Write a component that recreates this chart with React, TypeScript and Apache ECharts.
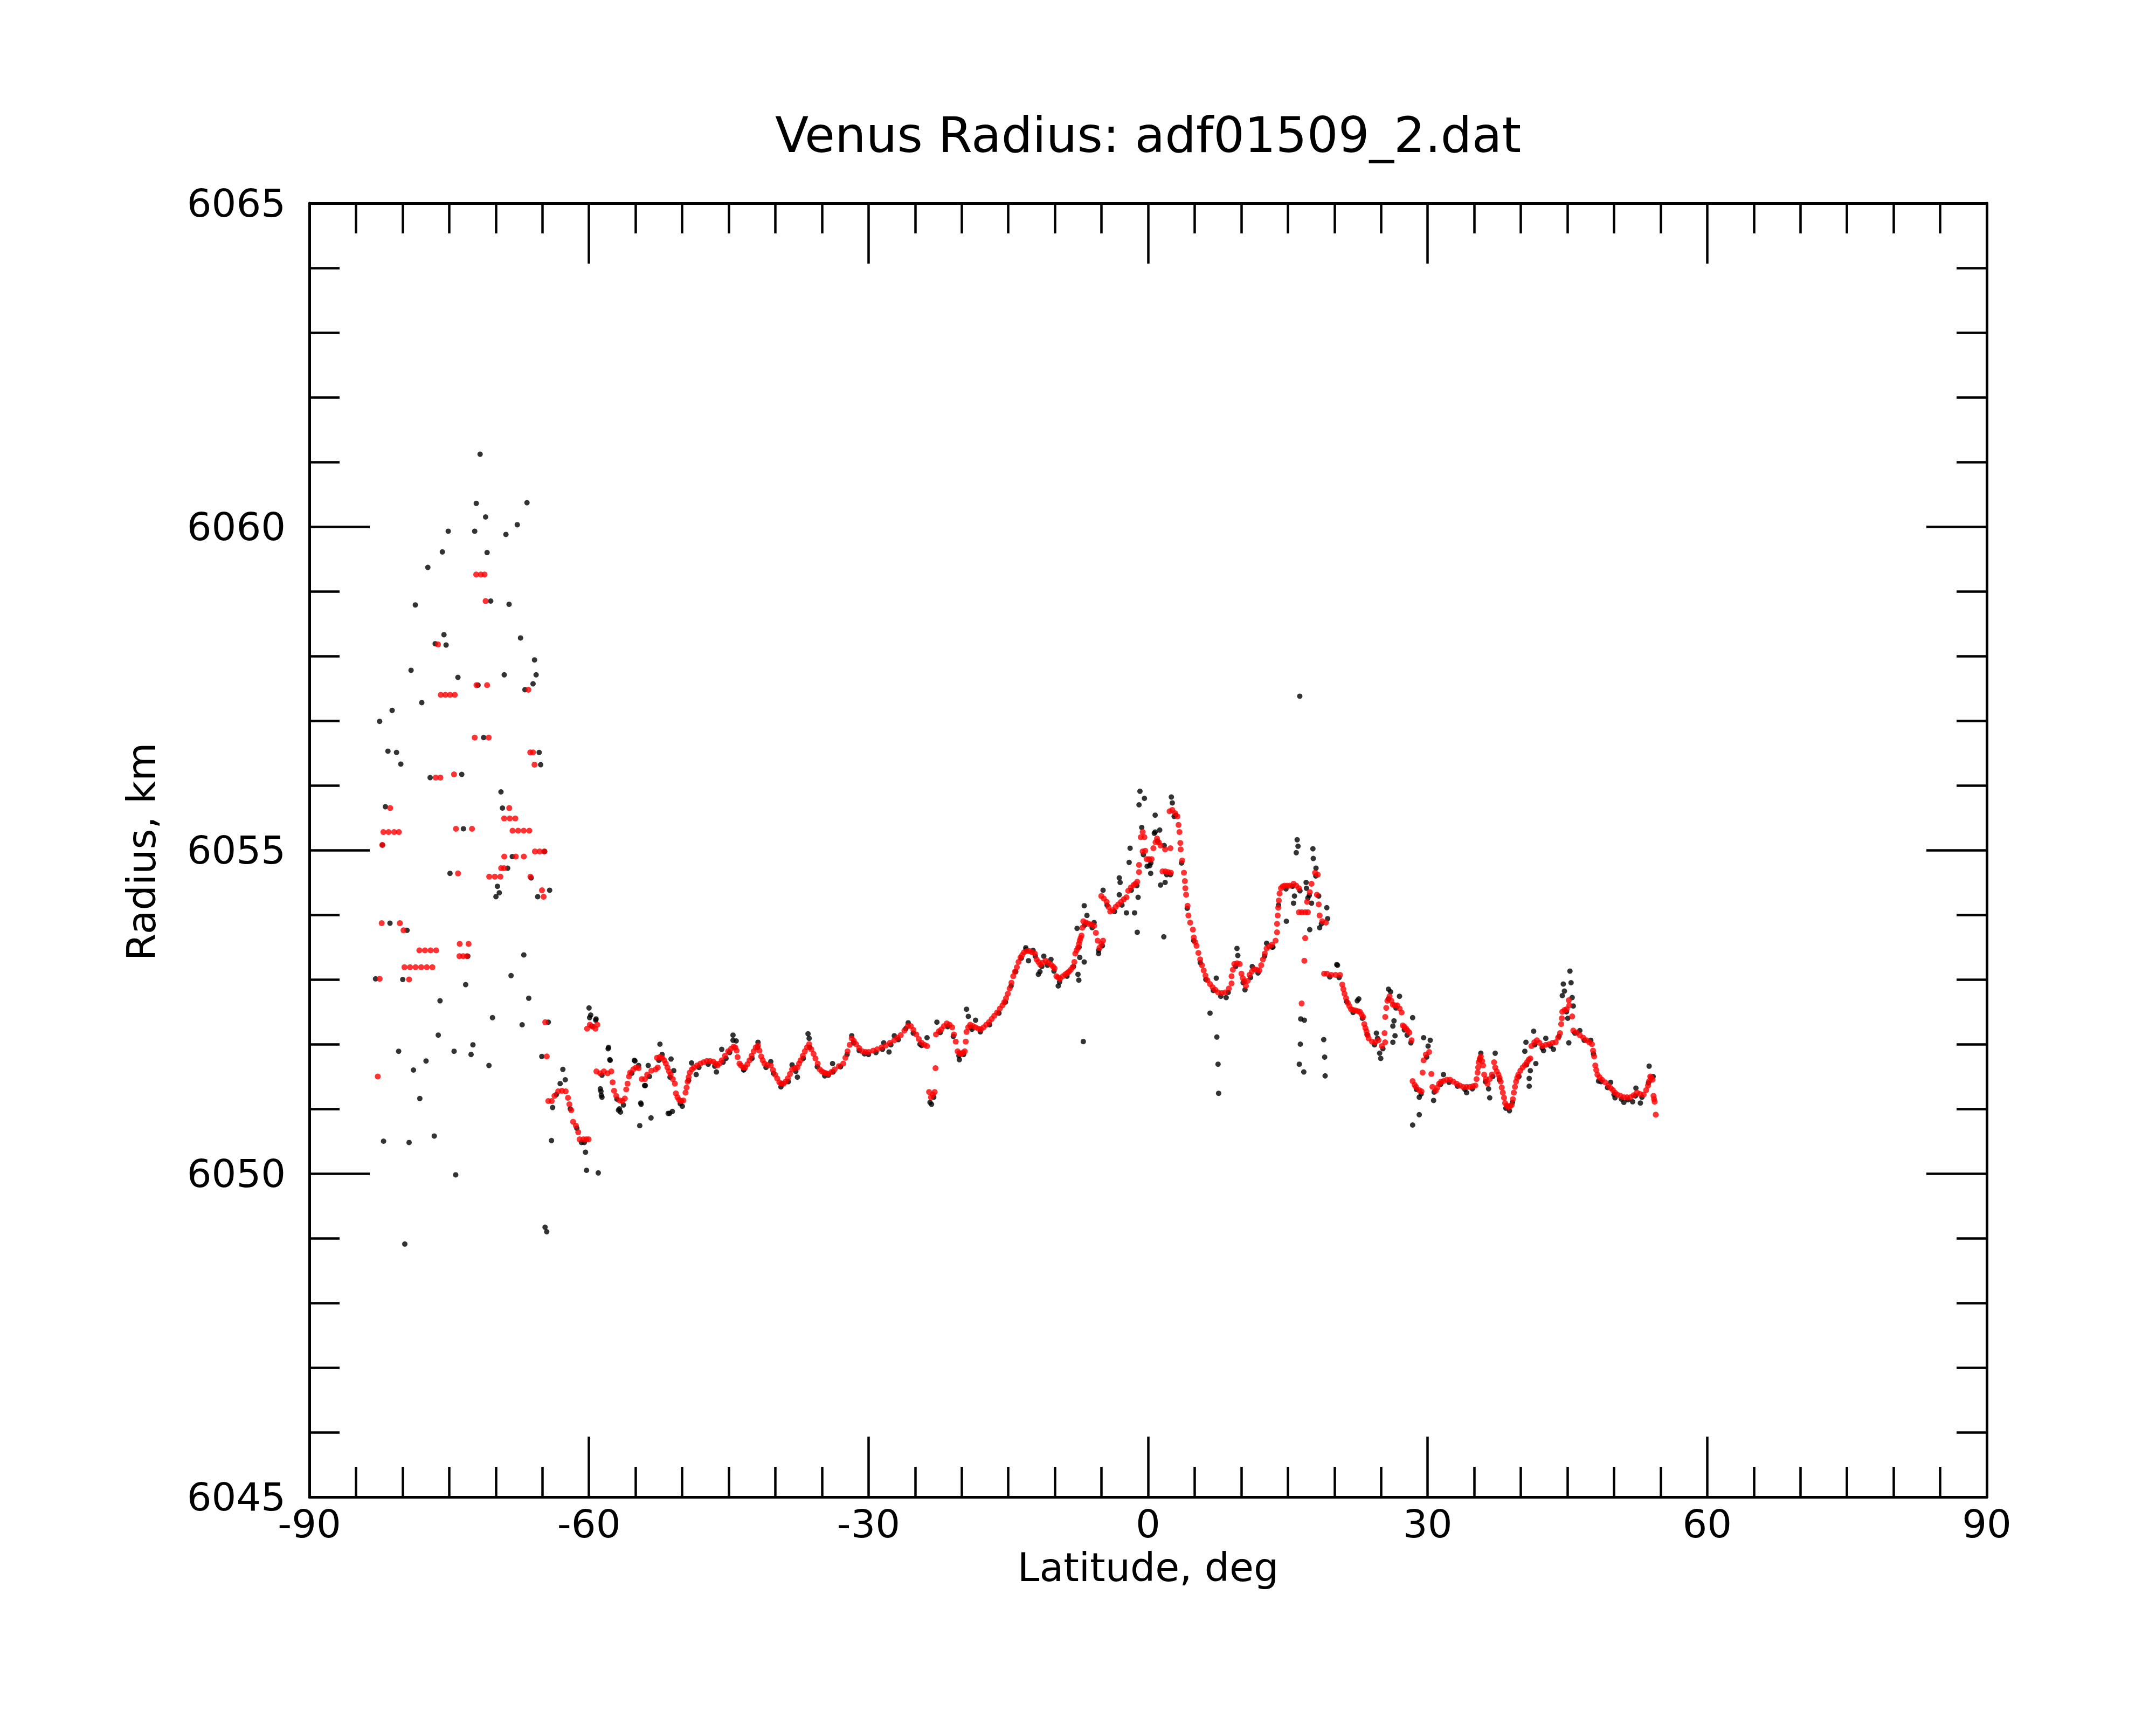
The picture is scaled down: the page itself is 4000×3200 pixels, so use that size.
import React, { useEffect, useRef } from "react";
import * as echarts from "echarts";

const TITLE = "Venus Radius: adf01509_2.dat";
const X_NAME = "Latitude, deg";
const Y_NAME = "Radius, km";
const X_RANGE = [-90, 90];
const Y_RANGE = [6045, 6065];

// red (filtered) points, scattered polar part
const redSouth: number[][] = [
  [-82.66, 6051.5], [-82.46, 6053.01], [-82.24, 6053.87], [-82.17, 6055.08],
  [-82.06, 6055.28], [-81.5, 6055.28], [-80.9, 6055.28], [-80.4, 6055.28],
  [-81.33, 6055.65], [-80.29, 6053.87], [-79.9, 6053.76], [-79.3, 6053.0],
  [-79.8, 6053.19], [-79.2, 6053.19], [-78.6, 6053.19], [-78.0, 6053.19], [-77.4, 6053.19], [-76.8, 6053.19],
  [-78.2, 6053.45], [-77.6, 6053.45], [-77.0, 6053.45], [-76.4, 6053.45],
  [-76.2, 6058.18], [-76.44, 6056.12], [-75.94, 6056.12],
  [-75.9, 6057.4], [-75.4, 6057.4], [-74.9, 6057.4], [-74.4, 6057.4],
  [-74.48, 6056.17], [-74.27, 6055.33], [-72.55, 6055.33], [-74.05, 6054.64],
  [-73.87, 6053.55], [-72.92, 6053.55], [-73.9, 6053.36], [-73.5, 6053.36], [-73.1, 6053.36],
  [-72.07, 6057.55], [-70.93, 6057.55], [-72.1, 6059.26], [-71.6, 6059.26], [-71.2, 6059.26],
  [-71.09, 6058.85], [-72.26, 6056.74], [-70.76, 6056.74],
  [-70.7, 6054.59], [-70.1, 6054.59], [-69.5, 6054.59], [-69.42, 6054.72], [-69.11, 6054.72],
  [-69.09, 6054.9], [-67.85, 6054.9], [-66.99, 6054.9],
  [-69.1, 6055.49], [-68.5, 6055.49], [-67.9, 6055.49], [-68.55, 6055.65],
  [-68.2, 6055.3], [-67.6, 6055.3], [-67.0, 6055.3], [-66.4, 6055.3],
  [-66.5, 6057.48], [-66.28, 6054.59], [-66.3, 6056.51], [-66.0, 6056.51], [-65.84, 6056.32],
  [-65.8, 6054.98], [-65.3, 6054.98], [-64.8, 6054.98], [-65.04, 6054.38], [-64.86, 6054.28],
  [-64.69, 6052.34], [-64.53, 6051.81],
];

// red points, southern continuous track (-64 .. -24)
const redMidSouth: number[][] = [
  [-64.36, 6051.12], [-64.0, 6051.12], [-63.7, 6051.2], [-63.3, 6051.27], [-62.9, 6051.28], [-62.5, 6051.27],
  [-62.25, 6051.17], [-62.1, 6051.07], [-61.9, 6050.98], [-61.7, 6050.8], [-61.4, 6050.74], [-61.15, 6050.64],
  [-61.0, 6050.53], [-60.6, 6050.53], [-60.3, 6050.53], [-60.04, 6050.53],
  [-60.2, 6052.24], [-59.9, 6052.3], [-59.6, 6052.27], [-59.3, 6052.24], [-59.1, 6052.3],
  [-59.2, 6051.58], [-58.8, 6051.55], [-58.4, 6051.58], [-58.0, 6051.55], [-57.6, 6051.58],
  [-57.46, 6051.41], [-57.3, 6051.28], [-57.07, 6051.2], [-56.7, 6051.13], [-56.4, 6051.12], [-56.15, 6051.16],
  [-56.0, 6051.3], [-55.86, 6051.39], [-55.7, 6051.5], [-55.58, 6051.56], [-55.24, 6051.61], [-54.95, 6051.64],
  [-54.67, 6051.63], [-54.33, 6051.46], [-53.98, 6051.46], [-53.75, 6051.53], [-53.3, 6051.59], [-52.84, 6051.61],
  [-52.61, 6051.64], [-52.7, 6051.79], [-52.4, 6051.8], [-52.15, 6051.79], [-51.92, 6051.75], [-51.75, 6051.7],
  [-51.58, 6051.64], [-51.4, 6051.58], [-51.24, 6051.53], [-51.0, 6051.46], [-50.78, 6051.39], [-50.67, 6051.24],
  [-50.5, 6051.18], [-50.32, 6051.14], [-50.1, 6051.12], [-49.87, 6051.13], [-49.64, 6051.25], [-49.52, 6051.33],
  [-49.41, 6051.42], [-49.3, 6051.49], [-49.18, 6051.56], [-48.95, 6051.61], [-48.72, 6051.64], [-48.4, 6051.67],
  [-48.04, 6051.7], [-47.7, 6051.72], [-47.35, 6051.74], [-47.0, 6051.74], [-46.66, 6051.73], [-46.4, 6051.7],
  [-46.21, 6051.67], [-45.98, 6051.7], [-45.75, 6051.75], [-45.4, 6051.82], [-45.06, 6051.89], [-44.75, 6051.93],
  [-44.49, 6051.96], [-44.3, 6051.95], [-44.15, 6051.9], [-44.05, 6051.8], [-43.85, 6051.7], [-43.69, 6051.67],
  [-43.45, 6051.64], [-43.23, 6051.64], [-43.0, 6051.69], [-42.77, 6051.75], [-42.55, 6051.82], [-42.32, 6051.89],
  [-42.1, 6051.95], [-41.86, 6051.98], [-41.7, 6051.9], [-41.52, 6051.81], [-41.35, 6051.75], [-41.17, 6051.7],
  [-40.85, 6051.68], [-40.49, 6051.67], [-40.25, 6051.6], [-40.03, 6051.53], [-39.8, 6051.47], [-39.57, 6051.41],
  [-39.35, 6051.39], [-39.12, 6051.39], [-38.9, 6051.42], [-38.66, 6051.47], [-38.43, 6051.54], [-38.2, 6051.61],
  [-37.9, 6051.63], [-37.63, 6051.64], [-37.45, 6051.7], [-37.29, 6051.75], [-37.05, 6051.82], [-36.83, 6051.89],
  [-36.6, 6051.95], [-36.37, 6052.0], [-36.14, 6051.92], [-35.9, 6051.85], [-35.69, 6051.78], [-35.45, 6051.7],
  [-35.23, 6051.61], [-35.0, 6051.58], [-34.77, 6051.56], [-34.54, 6051.55], [-34.31, 6051.54], [-33.97, 6051.57],
  [-33.63, 6051.61], [-33.17, 6051.66], [-32.71, 6051.7], [-32.48, 6051.79], [-32.25, 6051.89], [-32.02, 6051.99],
  [-31.8, 6052.09], [-31.57, 6052.05], [-31.34, 6052.0], [-31.0, 6051.94], [-30.66, 6051.89], [-30.3, 6051.88],
  [-29.97, 6051.88], [-29.5, 6051.9], [-29.07, 6051.92], [-28.6, 6051.95], [-28.14, 6051.98], [-27.7, 6052.02],
  [-27.23, 6052.06], [-26.9, 6052.1], [-26.54, 6052.14], [-26.15, 6052.21], [-25.78, 6052.28], [-25.46, 6052.28],
  [-25.18, 6052.22], [-24.88, 6052.15], [-24.6, 6052.08], [-24.3, 6052.02], [-24.0, 6051.99], [-23.72, 6051.97],
];

// red points, equatorial track (-24 .. 20)
const redEquator: number[][] = [
  [-23.5, 6051.26], [-23.3, 6051.18], [-23.1, 6051.22], [-22.9, 6051.26], [-22.81, 6051.63],
  [-22.76, 6052.15], [-22.45, 6052.2], [-22.18, 6052.23], [-21.9, 6052.28], [-21.6, 6052.32], [-21.3, 6052.3],
  [-21.02, 6052.26], [-20.83, 6052.15], [-20.64, 6052.04], [-20.44, 6051.89], [-20.25, 6051.86], [-20.06, 6051.85],
  [-19.85, 6051.87], [-19.67, 6051.89], [-19.57, 6052.04], [-19.48, 6052.19], [-19.3, 6052.26], [-19.09, 6052.3],
  [-18.8, 6052.28], [-18.51, 6052.26], [-18.2, 6052.24], [-17.94, 6052.23], [-17.65, 6052.26], [-17.36, 6052.3],
  [-17.07, 6052.34], [-16.78, 6052.39], [-16.5, 6052.44], [-16.2, 6052.49], [-15.9, 6052.55], [-15.62, 6052.6],
  [-15.43, 6052.65], [-15.24, 6052.71], [-15.05, 6052.78], [-14.85, 6052.86], [-14.66, 6052.95], [-14.47, 6053.05],
  [-14.28, 6053.12], [-14.08, 6053.19], [-13.9, 6053.27], [-13.69, 6053.34], [-13.5, 6053.38], [-13.31, 6053.42],
  [-13.0, 6053.44], [-12.73, 6053.44], [-12.45, 6053.42], [-12.15, 6053.4], [-11.96, 6053.31], [-11.77, 6053.27],
  [-11.57, 6053.23], [-11.3, 6053.26], [-10.99, 6053.29], [-10.7, 6053.26], [-10.42, 6053.23], [-10.2, 6053.2],
  [-10.03, 6053.17], [-9.84, 6053.05], [-9.65, 6053.03], [-9.45, 6053.01], [-9.15, 6053.05], [-8.88, 6053.08],
  [-8.67, 6053.1], [-8.49, 6053.12], [-8.3, 6053.15], [-8.1, 6053.19], [-7.91, 6053.27], [-7.81, 6053.4],
  [-7.67, 6053.45], [-7.52, 6053.49], [-7.42, 6053.55], [-7.33, 6053.6], [-7.24, 6053.64], [-7.14, 6053.68],
  [-7.05, 6053.8], [-6.95, 6053.9], [-6.65, 6053.88], [-6.37, 6053.86], [-6.08, 6053.85], [-5.79, 6053.83],
  [-5.6, 6053.72], [-5.41, 6053.6], [-5.21, 6053.49], [-5.0, 6053.55], [-4.83, 6053.6],
  [-5.02, 6054.29], [-4.75, 6054.25], [-4.44, 6054.2], [-4.25, 6054.12], [-4.06, 6054.05], [-3.8, 6054.07],
  [-3.48, 6054.12], [-3.2, 6054.16], [-2.9, 6054.2], [-2.6, 6054.24], [-2.32, 6054.27], [-2.13, 6054.37],
  [-1.85, 6054.42], [-1.55, 6054.46], [-1.36, 6054.48], [-1.16, 6054.51], [-0.97, 6054.66], [-0.97, 6054.77],
  [-0.78, 6055.2], [-0.58, 6055.28], [-0.58, 6054.98], [-0.39, 6055.2], [-0.3, 6054.99], [-0.15, 6054.86],
  [0.1, 6054.86], [0.38, 6054.86], [0.57, 6055.03], [0.8, 6055.12], [0.96, 6055.18], [1.15, 6055.12],
  [1.34, 6055.07], [1.55, 6054.67], [1.83, 6055.01], [1.85, 6054.67], [2.15, 6054.66], [2.4, 6055.03],
  [2.45, 6054.65], [2.31, 6055.6], [2.6, 6055.62], [2.9, 6055.57], [3.15, 6055.52],
  [3.27, 6055.39], [3.37, 6055.28], [3.46, 6055.11], [3.5, 6055.01], [3.66, 6054.84], [3.85, 6054.65],
  [3.95, 6054.52], [4.0, 6054.41], [4.08, 6054.31], [4.24, 6054.14], [4.33, 6053.99], [4.52, 6053.88],
  [4.81, 6053.77], [4.91, 6053.65], [5.05, 6053.58], [5.2, 6053.52], [5.4, 6053.41], [5.59, 6053.31],
  [5.78, 6053.22], [5.97, 6053.14], [6.16, 6053.06], [6.36, 6052.99], [6.65, 6052.93], [6.93, 6052.88],
  [7.22, 6052.84], [7.51, 6052.8], [7.9, 6052.79], [8.28, 6052.8], [8.67, 6052.86], [8.96, 6052.94],
  [8.96, 6053.05], [9.1, 6053.15], [9.25, 6053.24], [9.55, 6053.25], [9.83, 6053.24], [10.02, 6053.09],
  [10.17, 6053.02], [10.31, 6052.97], [10.5, 6052.9], [10.7, 6052.98], [10.89, 6053.07], [11.13, 6053.12],
  [11.37, 6053.16], [11.66, 6053.15], [11.95, 6053.14], [12.14, 6053.22], [12.33, 6053.31], [12.52, 6053.4],
  [12.72, 6053.48], [13.0, 6053.51], [13.3, 6053.54], [13.68, 6053.6], [13.84, 6053.73], [13.84, 6053.86],
  [13.91, 6053.99], [13.97, 6054.11], [14.03, 6054.22], [14.11, 6054.33], [14.26, 6054.41], [14.45, 6054.44],
  [14.65, 6054.45], [14.94, 6054.45], [15.22, 6054.45], [15.61, 6054.48], [15.9, 6054.45], [16.19, 6054.41],
  [16.19, 6054.04], [16.5, 6054.04], [16.86, 6054.04], [17.15, 6054.04], [16.86, 6053.64], [16.77, 6053.29],
  [16.48, 6052.63], [17.06, 6054.2], [17.35, 6054.35], [17.54, 6054.48], [17.92, 6054.65], [18.21, 6054.62],
  [18.12, 6054.31], [18.31, 6054.16], [18.41, 6053.99], [18.69, 6053.9], [19.08, 6053.88],
  [18.89, 6053.09], [19.2, 6053.09], [19.66, 6053.07],
];

// red points, northern track (20 .. 55)
const redNorth: number[][] = [
  [20.13, 6053.07], [20.6, 6053.07], [20.84, 6052.92], [20.96, 6052.85], [21.08, 6052.78], [21.25, 6052.71],
  [21.43, 6052.64], [21.6, 6052.59], [21.78, 6052.54], [22.0, 6052.53], [22.26, 6052.52], [22.5, 6052.51],
  [22.73, 6052.5], [22.9, 6052.46], [23.08, 6052.42], [23.2, 6052.31], [23.32, 6052.25], [23.44, 6052.2],
  [23.55, 6052.14], [23.67, 6052.09], [24.03, 6052.04], [24.38, 6052.03], [24.73, 6052.06], [25.09, 6051.97],
  [25.44, 6052.03], [25.38, 6052.17], [25.45, 6052.42], [25.56, 6052.56], [25.68, 6052.67], [25.91, 6052.74],
  [26.1, 6052.67], [26.27, 6052.61], [26.5, 6052.6], [26.74, 6052.6], [27.0, 6052.55], [27.21, 6052.49],
  [27.33, 6052.29], [27.5, 6052.27], [27.69, 6052.24], [27.85, 6052.21], [28.04, 6052.18], [28.28, 6052.06],
  [28.39, 6051.43], [28.6, 6051.37], [28.75, 6051.34], [29.1, 6051.29], [29.34, 6051.27],
  [29.46, 6051.56], [29.57, 6051.75], [29.81, 6051.84], [30.16, 6051.88], [30.4, 6051.54],
  [30.52, 6051.34], [30.87, 6051.28], [31.05, 6051.33], [31.23, 6051.39], [31.45, 6051.42], [31.7, 6051.43],
  [32.05, 6051.45], [32.41, 6051.45], [32.75, 6051.42], [33.11, 6051.39], [33.45, 6051.36], [33.82, 6051.34],
  [34.18, 6051.34], [34.53, 6051.34], [34.85, 6051.35], [35.12, 6051.36], [35.25, 6051.46], [35.36, 6051.56],
  [35.42, 6051.64], [35.48, 6051.72], [35.6, 6051.78], [35.71, 6051.81], [35.85, 6051.74], [35.95, 6051.67],
  [36.07, 6051.53], [36.25, 6051.46], [36.42, 6051.39], [36.66, 6051.46], [36.89, 6051.53], [37.13, 6051.72],
  [37.25, 6051.64], [37.42, 6051.58], [37.6, 6051.53], [37.72, 6051.48], [37.84, 6051.42], [37.95, 6051.33],
  [38.07, 6051.25], [38.2, 6051.17], [38.31, 6051.09], [38.5, 6051.05], [38.66, 6051.03], [38.85, 6051.04],
  [39.02, 6051.06], [39.15, 6051.15], [39.25, 6051.25], [39.37, 6051.34], [39.49, 6051.42], [39.61, 6051.48],
  [39.73, 6051.53], [39.95, 6051.59], [40.2, 6051.64], [40.45, 6051.68], [40.67, 6051.72], [40.85, 6051.76],
  [41.02, 6051.78], [41.14, 6051.97], [41.45, 6052.03], [41.73, 6052.06], [42.0, 6052.02], [42.32, 6051.97],
  [42.68, 6051.99], [43.03, 6052.0], [43.4, 6052.02], [43.74, 6052.03], [44.0, 6052.1], [44.21, 6052.17],
  [44.33, 6052.31], [44.4, 6052.4], [44.45, 6052.5], [44.7, 6052.53], [44.92, 6052.54], [45.15, 6052.68],
  [45.2, 6052.6], [45.51, 6052.43], [45.63, 6052.21], [46.0, 6052.18], [46.33, 6052.14], [46.7, 6052.1],
  [47.04, 6052.06], [47.35, 6052.03], [47.63, 6052.0], [47.75, 6051.9], [47.87, 6051.81], [47.99, 6051.67],
  [48.1, 6051.6], [48.22, 6051.53], [48.45, 6051.49], [48.7, 6051.45], [49.05, 6051.41], [49.4, 6051.36],
  [49.65, 6051.32], [49.88, 6051.29], [50.1, 6051.25], [50.35, 6051.22], [50.7, 6051.2], [51.06, 6051.18],
  [51.4, 6051.18], [51.76, 6051.18], [52.1, 6051.21], [52.47, 6051.25], [52.8, 6051.23], [53.18, 6051.22],
  [53.45, 6051.29], [53.65, 6051.36], [53.77, 6051.43], [53.89, 6051.5], [54.0, 6051.48], [54.13, 6051.45],
  [54.24, 6051.2], [54.3, 6051.15], [54.36, 6051.11], [54.48, 6050.91],
];

// black (raw) points, scattered polar part
const blackSouth: number[][] = [
  [-71.68, 6061.12], [-72.09, 6060.36], [-66.65, 6060.37], [-71.09, 6060.15], [-67.69, 6060.03],
  [-75.1, 6059.93], [-72.26, 6059.93], [-68.91, 6059.88], [-75.73, 6059.61], [-70.93, 6059.6],
  [-77.29, 6059.37], [-70.54, 6058.85], [-68.57, 6058.8], [-78.63, 6058.79], [-75.56, 6058.33],
  [-76.5, 6058.19], [-75.33, 6058.17], [-67.34, 6058.28], [-65.84, 6057.94], [-79.09, 6057.78],
  [-74.06, 6057.67], [-69.09, 6057.71], [-65.67, 6057.71], [-66.0, 6057.57], [-71.9, 6057.55],
  [-66.87, 6057.48], [-77.94, 6057.28], [-81.12, 6057.16], [-82.46, 6056.99], [-71.3, 6056.74],
  [-81.57, 6056.53], [-80.65, 6056.51], [-65.34, 6056.51], [-80.19, 6056.33], [-65.18, 6056.32],
  [-77.04, 6056.12], [-73.65, 6056.17], [-69.44, 6055.9], [-81.84, 6055.67], [-69.28, 6055.65],
  [-73.47, 6055.33], [-82.17, 6055.08], [-64.75, 6054.98], [-68.23, 6054.9], [-74.91, 6054.64],
  [-68.72, 6054.72], [-66.2, 6054.57], [-69.82, 6054.44], [-69.62, 6054.34], [-69.98, 6054.28],
  [-64.22, 6054.38], [-65.5, 6054.28], [-81.35, 6053.87], [-79.52, 6053.76], [-73.0, 6053.36],
  [-66.99, 6053.38], [-82.9, 6053.01], [-79.98, 6053.0], [-68.36, 6053.06], [-73.23, 6052.92],
  [-75.98, 6052.67], [-66.46, 6052.71], [-70.35, 6052.41], [-67.17, 6052.3], [-64.36, 6052.34],
  [-76.17, 6052.14], [-80.42, 6051.89], [-72.45, 6051.99], [-74.47, 6051.89], [-72.65, 6051.84],
  [-77.48, 6051.74], [-65.06, 6051.81], [-78.83, 6051.6], [-70.73, 6051.67], [-78.15, 6051.16],
  [-82.04, 6050.5], [-79.3, 6050.48], [-76.6, 6050.58], [-74.3, 6049.98], [-79.76, 6048.91],
  [-64.71, 6049.17], [-64.53, 6049.1], [-64.02, 6050.51],
];

// black points that lie on the continuous track
const blackTrack: number[][] = [
  [-63.5, 6051.22], [-62.0, 6051.0], [-61.3, 6050.7], [-60.5, 6050.48], [-59.7, 6052.28], [-58.6, 6051.52],
  [-57.0, 6051.15], [-56.3, 6051.06], [-55.4, 6051.55], [-53.5, 6051.5], [-52.5, 6051.75], [-51.3, 6051.49],
  [-50.2, 6051.08], [-49.3, 6051.44], [-48.2, 6051.64], [-47.2, 6051.69], [-46.5, 6051.66], [-45.6, 6051.72],
  [-44.9, 6051.87], [-44.2, 6052.05], [-43.4, 6051.6], [-42.5, 6051.78], [-41.9, 6051.95], [-41.0, 6051.64],
  [-40.2, 6051.55], [-39.4, 6051.34], [-38.6, 6051.42], [-37.8, 6051.58], [-37.0, 6051.78], [-36.3, 6051.95],
  [-35.5, 6051.65], [-34.7, 6051.51], [-33.8, 6051.57], [-33.0, 6051.65], [-32.3, 6051.84], [-31.6, 6052.02],
  [-31.0, 6051.9], [-30.0, 6051.84], [-29.2, 6051.87], [-28.5, 6051.92], [-27.6, 6051.99], [-26.8, 6052.07],
  [-26.0, 6052.24], [-25.2, 6052.17], [-24.3, 6051.98], [-23.4, 6051.1], [-23.0, 6051.18], [-22.3, 6052.18],
  [-21.5, 6052.27], [-20.9, 6052.12], [-20.3, 6051.82], [-19.8, 6051.84], [-19.0, 6052.26], [-18.0, 6052.19],
  [-17.0, 6052.3], [-16.0, 6052.48], [-15.3, 6052.65], [-14.7, 6052.9], [-14.2, 6053.12], [-13.6, 6053.33],
  [-13.1, 6053.46], [-12.1, 6053.36], [-11.4, 6053.2], [-10.8, 6053.22], [-10.1, 6053.13], [-9.5, 6052.96],
  [-8.7, 6053.05], [-8.0, 6053.2], [-7.4, 6053.5], [-6.8, 6053.84], [-6.0, 6053.8], [-5.3, 6053.45],
  [-4.9, 6053.52], [-4.4, 6054.15], [-3.6, 6054.05], [-2.8, 6054.15], [-1.8, 6054.38], [-1.2, 6054.45],
  [-0.5, 6054.93], [0.3, 6054.8], [1.0, 6055.14], [2.0, 6054.62], [2.8, 6055.52], [3.6, 6054.8],
  [4.2, 6054.1], [4.9, 6053.6], [5.6, 6053.26], [6.2, 6053.0], [7.0, 6052.83], [7.8, 6052.74],
  [8.6, 6052.8], [9.4, 6053.2], [10.2, 6052.95], [11.0, 6053.03], [11.8, 6053.1], [12.5, 6053.36],
  [13.4, 6053.5], [14.0, 6054.15], [14.8, 6054.4], [15.5, 6054.44], [16.3, 6054.37], [17.3, 6054.3],
  [18.0, 6054.6], [18.6, 6053.86], [19.5, 6053.04], [20.5, 6053.03], [21.3, 6052.66], [22.0, 6052.49],
  [23.0, 6052.4], [23.5, 6052.15], [24.3, 6051.99], [25.2, 6051.93], [25.8, 6052.7], [26.6, 6052.56],
  [27.5, 6052.22], [28.2, 6052.02], [28.8, 6051.3], [29.3, 6051.23], [29.9, 6051.8], [30.7, 6051.26],
  [31.4, 6051.38], [32.3, 6051.41], [33.2, 6051.35], [34.0, 6051.3], [34.8, 6051.31], [35.6, 6051.76],
  [36.2, 6051.42], [37.0, 6051.5], [37.7, 6051.45], [38.4, 6051.01], [39.1, 6051.1], [39.8, 6051.5],
  [40.6, 6051.68], [41.5, 6051.99], [42.3, 6051.94], [43.2, 6051.97], [44.1, 6052.12], [44.9, 6052.5],
  [45.8, 6052.17], [46.8, 6052.06], [47.8, 6051.85], [48.6, 6051.42], [49.3, 6051.33], [50.0, 6051.22],
  [50.8, 6051.15], [51.5, 6051.14], [52.3, 6051.2], [53.0, 6051.18], [53.7, 6051.4], [54.2, 6051.5],
];

// black points off the track
const blackSpikes: number[][] = [
  [-63.09, 6051.39], [-62.8, 6051.61], [-62.54, 6051.45], [-63.9, 6051.02], [-60.8, 6050.48], [-60.37, 6050.33],
  [-60.26, 6050.05], [-59.0, 6050.01], [-57.94, 6051.93], [-57.72, 6051.75],
  [-59.99, 6052.56], [-59.93, 6052.41], [-59.27, 6052.37], [-59.81, 6052.45], [-59.24, 6052.39],
  [-57.9, 6051.95], [-57.76, 6051.76], [-58.78, 6051.31], [-58.67, 6051.21], [-58.71, 6051.27], [-58.6, 6051.18],
  [-56.73, 6051.0], [-56.61, 6050.95], [-56.83, 6050.98], [-55.13, 6051.75], [-55.06, 6051.74], [-54.67, 6051.67],
  [-53.64, 6051.67], [-54.44, 6051.09], [-54.4, 6051.07], [-54.03, 6051.36], [-53.95, 6051.36], [-54.55, 6050.74],
  [-53.34, 6050.86], [-51.35, 6050.93], [-51.05, 6050.96], [-51.5, 6050.93], [-52.38, 6052.0], [-52.15, 6051.84],
  [-51.19, 6051.77], [-50.9, 6051.59], [-49.98, 6051.04], [-48.99, 6051.71], [-48.49, 6051.53], [-46.32, 6051.57],
  [-45.75, 6051.92], [-45.29, 6051.78], [-44.54, 6052.14], [-44.54, 6052.06], [-43.35, 6051.61], [-41.86, 6052.03],
  [-40.49, 6051.73], [-39.3, 6051.38], [-38.2, 6051.68], [-37.63, 6051.49], [-36.49, 6052.16], [-36.37, 6052.09],
  [-34.31, 6051.52], [-33.86, 6051.7], [-31.8, 6052.13], [-30.43, 6051.85], [-28.37, 6052.02], [-27.8, 6051.88],
  [-27.23, 6052.13], [-25.74, 6052.33], [-24.48, 6052.0],
  [-23.72, 6052.1], [-23.24, 6051.07], [-22.66, 6052.34], [-20.25, 6051.76], [-19.48, 6052.54], [-19.29, 6052.43],
  [-18.9, 6052.23], [-18.51, 6052.37], [-13.12, 6053.49], [-12.34, 6053.45], [-12.83, 6053.29], [-11.77, 6053.08],
  [-11.6, 6053.12], [-11.19, 6053.36], [-10.42, 6053.31], [-9.64, 6052.9], [-7.52, 6053.08], [-7.43, 6052.99],
  [-7.33, 6053.34], [-6.85, 6053.27], [-7.62, 6053.79], [-6.85, 6054.14], [-6.56, 6053.99], [-5.79, 6053.88],
  [-6.95, 6052.04], [-5.31, 6053.4], [-4.83, 6054.38], [-3.09, 6054.57], [-3.0, 6054.5], [-3.09, 6054.31],
  [-2.32, 6054.03], [-1.45, 6054.03], [-1.07, 6054.27], [-1.16, 6053.73], [-1.93, 6055.03], [-2.03, 6054.81],
  [-0.87, 6055.91], [-0.39, 6055.8], [-0.97, 6055.7], [0.76, 6055.54], [-0.68, 6055.35], [0.18, 6054.76],
  [0.28, 6054.64], [0.76, 6055.28],
  [0.67, 6055.26], [1.25, 6055.31], [1.73, 6055.07], [-0.1, 6054.75], [1.34, 6054.46], [1.83, 6054.5],
  [2.4, 6054.62], [2.5, 6055.82], [2.6, 6055.73], [2.98, 6055.54], [1.69, 6053.66], [6.65, 6052.48],
  [7.32, 6053.02], [7.38, 6052.11], [7.51, 6051.69], [7.57, 6051.24], [8.38, 6052.72], [9.54, 6053.48],
  [9.63, 6053.37], [10.4, 6052.84], [11.18, 6053.2], [12.72, 6053.56], [13.3, 6053.5], [16.0, 6055.16],
  [16.09, 6055.06], [15.9, 6054.96], [14.84, 6053.9], [15.71, 6054.29], [15.61, 6054.18], [16.96, 6054.5],
  [17.0, 6054.41], [17.15, 6054.26], [17.54, 6054.18], [17.35, 6053.77], [17.69, 6055.02], [17.73, 6054.87],
  [18.02, 6054.72], [18.31, 6054.29], [19.18, 6054.11], [19.27, 6053.94], [18.41, 6053.8], [16.38, 6052.39],
  [16.77, 6052.37], [16.34, 6052.0], [16.23, 6051.69], [16.71, 6051.57], [18.85, 6052.07], [18.95, 6051.8],
  [19.0, 6051.51], [20.33, 6053.22], [22.45, 6052.67], [16.28, 6057.38],
  [20.25, 6053.23], [22.61, 6052.7], [24.5, 6052.17], [24.62, 6052.09], [24.85, 6051.86], [24.97, 6051.78],
  [25.8, 6052.85], [26.03, 6052.81], [26.98, 6052.74], [26.39, 6052.36], [26.27, 6052.28], [26.5, 6052.13],
  [26.27, 6052.03], [28.39, 6052.41], [27.8, 6052.14], [29.57, 6052.1], [30.28, 6052.06], [30.05, 6051.97],
  [29.1, 6051.18], [29.1, 6050.91], [28.39, 6050.75], [30.64, 6051.13], [31.7, 6051.53], [34.18, 6051.25],
  [35.71, 6051.86], [36.66, 6051.17], [36.54, 6051.31], [37.25, 6051.86], [38.78, 6050.97], [40.43, 6051.89],
  [40.55, 6052.03], [41.61, 6051.7], [41.02, 6051.59], [40.9, 6051.47], [40.9, 6051.35], [41.38, 6052.2],
  [42.68, 6052.09], [43.5, 6051.92], [42.44, 6051.9], [44.56, 6052.93], [44.68, 6052.82], [44.45, 6052.75],
  [45.27, 6053.13], [45.39, 6052.95], [45.51, 6052.72], [45.63, 6052.59], [45.04, 6052.4], [45.15, 6052.02],
  [46.33, 6052.21], [47.51, 6052.06], [48.34, 6051.43], [49.64, 6051.41], [50.11, 6051.17], [51.06, 6051.1],
  [52.0, 6051.11], [52.83, 6051.09], [52.35, 6051.32], [53.77, 6051.66],
];

const FONT = "DejaVu Sans";

function axisCommon(showLabel: boolean, margin: number) {
  return {
    axisLine: { show: true, onZero: false, lineStyle: { color: "#000", width: 5 } },
    axisTick: { show: true, inside: true, length: 112, lineStyle: { color: "#000", width: 4.5 } },
    minorTick: { show: true, length: 56, lineStyle: { color: "#000", width: 4.5 } },
    splitLine: { show: false },
    minorSplitLine: { show: false },
    axisLabel: {
      show: showLabel,
      color: "#000",
      fontSize: 72,
      lineHeight: 72,
      fontFamily: FONT,
      margin,
      formatter: (v: number) => String(v),
    },
  };
}

export default function App() {
  const ref = useRef<HTMLDivElement>(null);
  useEffect(() => {
    document.body.style.margin = "0";
    const chart = echarts.init(ref.current!, null, { renderer: "svg" });
    const xBase = { type: "value", min: X_RANGE[0], max: X_RANGE[1], interval: 30 };
    const yBase = { type: "value", min: Y_RANGE[0], max: Y_RANGE[1], interval: 5 };
    const xa0: any = { ...xBase, position: "bottom", ...axisCommon(true, 14) };
    xa0.minorTick.splitNumber = 6;
    const xa1: any = { ...xBase, position: "top", ...axisCommon(false, 14) };
    xa1.minorTick.splitNumber = 6;
    const ya0: any = { ...yBase, position: "left", ...axisCommon(true, 44) };
    ya0.minorTick.splitNumber = 5;
    const ya1: any = { ...yBase, position: "right", ...axisCommon(false, 44) };
    ya1.minorTick.splitNumber = 5;

    const textStyle = (size: number) => ({
      fill: "#000",
      fontSize: size,
      fontFamily: FONT,
      align: "center",
      verticalAlign: "middle",
      textAlign: "center",
      textVerticalAlign: "middle",
    });

    chart.setOption({
      animation: false,
      backgroundColor: "#fff",
      grid: { left: 574, right: 314, top: 377, bottom: 423, containLabel: false },
      xAxis: [xa0, xa1],
      yAxis: [ya0, ya1],
      graphic: [
        { type: "text", x: 2130, y: 250, style: { text: TITLE, ...textStyle(91) } },
        { type: "text", x: 2130, y: 2907, style: { text: X_NAME, ...textStyle(73) } },
        { type: "text", x: 262, y: 1580, rotation: Math.PI / 2, style: { text: Y_NAME, ...textStyle(73) } },
      ],
      series: [
        {
          type: "scatter",
          name: "raw",
          xAxisIndex: 0,
          yAxisIndex: 0,
          symbol: "circle",
          symbolSize: 10,
          itemStyle: { color: "#000" },
          data: [...blackSouth, ...blackTrack, ...blackSpikes],
          z: 2,
        },
        {
          type: "scatter",
          name: "filtered",
          xAxisIndex: 0,
          yAxisIndex: 0,
          symbol: "circle",
          symbolSize: 11,
          itemStyle: { color: "#ff0000" },
          data: [...redSouth, ...redMidSouth, ...redEquator, ...redNorth],
          z: 3,
        },
      ],
    });
    return () => chart.dispose();
  }, []);
  return <div ref={ref} style={{ width: 4000, height: 3200 }} />;
}
